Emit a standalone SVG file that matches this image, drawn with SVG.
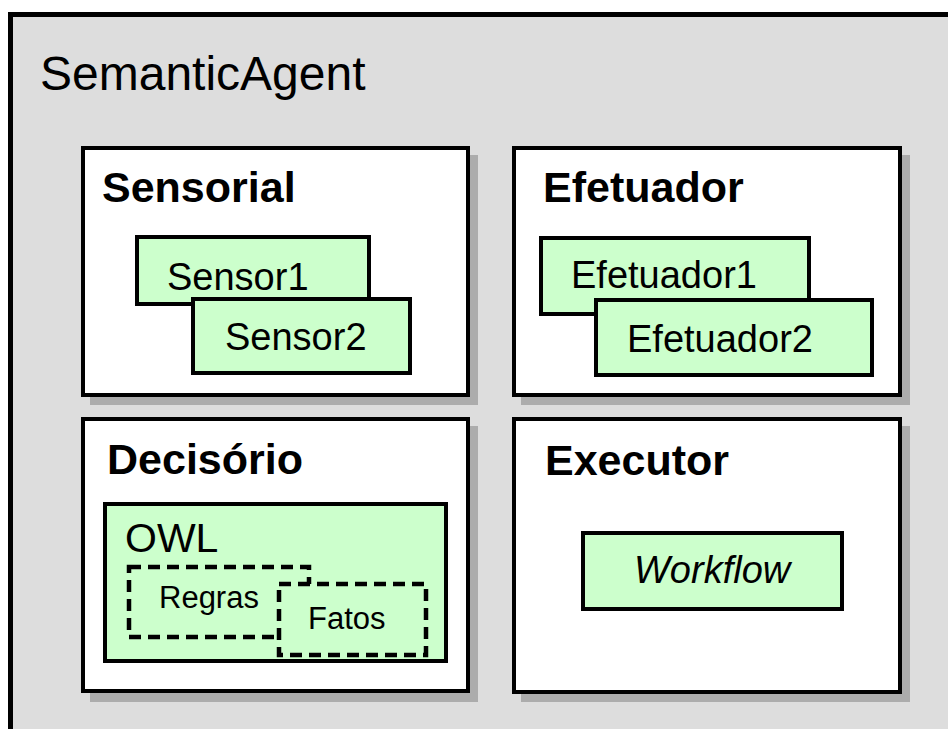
<svg xmlns="http://www.w3.org/2000/svg" width="948" height="729" viewBox="0 0 948 729">
<style>
.t{font-family:"Liberation Sans",Arial,sans-serif;fill:#000}
.h{font-weight:bold;font-size:43px}
.n{font-size:38px}
.box{fill:#fff;stroke:#000;stroke-width:4}
.sh{fill:#acacac}
.g{fill:#ccffcc;stroke:#000;stroke-width:4}
.d{fill:#ccffcc;stroke:#000;stroke-width:4.5;stroke-dasharray:12 7}
</style>
<rect width="948" height="729" fill="#fff"/>
<g id="SemanticAgent">
<rect x="10.5" y="14.5" width="1000" height="800" fill="#dddddd" stroke="#000" stroke-width="5"/>
<text class="t" x="40" y="90" font-size="48">SemanticAgent</text>
</g>
<g id="Sensorial">
<rect class="sh" x="90" y="155" width="388" height="250"/>
<rect class="box" x="83" y="148" width="385" height="247"/>
<text class="t h" x="102" y="202">Sensorial</text>
</g>
<g id="Sensor1">
<rect class="g" x="137" y="237" width="232" height="67"/>
<text class="t n" x="167" y="290">Sensor1</text>
</g>
<g id="Sensor2">
<rect class="g" x="193" y="299" width="217" height="74"/>
<text class="t n" x="225" y="350">Sensor2</text>
</g>
<g id="Efetuador">
<rect class="sh" x="521" y="155" width="389" height="250"/>
<rect class="box" x="514" y="148" width="386" height="247"/>
<text class="t h" x="543" y="202">Efetuador</text>
</g>
<g id="Efetuador1">
<rect class="g" x="541" y="238" width="268" height="76"/>
<text class="t n" x="571" y="288">Efetuador1</text>
</g>
<g id="Efetuador2">
<rect class="g" x="596" y="300" width="276" height="75"/>
<text class="t n" x="627" y="352">Efetuador2</text>
</g>
<g id="Decisorio">
<rect class="sh" x="90" y="426" width="388" height="276"/>
<rect class="box" x="83" y="419" width="385" height="272"/>
<text class="t h" x="107" y="474">Decisório</text>
</g>
<g id="OWL">
<rect class="g" x="105" y="504" width="341" height="157"/>
<text class="t" x="125" y="552" font-size="41">OWL</text>
</g>
<g id="Regras">
<rect class="d" x="129" y="567" width="180" height="70"/>
<text class="t" x="159" y="608" font-size="31">Regras</text>
</g>
<g id="Fatos">
<rect class="d" x="279" y="584" width="147" height="71"/>
<text class="t" x="308" y="629" font-size="31">Fatos</text>
</g>
<g id="Executor">
<rect class="sh" x="521" y="426" width="389" height="276"/>
<rect class="box" x="514" y="419" width="386" height="273"/>
<text class="t h" x="545" y="475">Executor</text>
</g>
<g id="Workflow">
<rect class="g" x="583" y="533" width="259" height="76"/>
<text class="t n" x="634" y="583" font-style="italic">Workflow</text>
</g>
<g id="connectors"></g>
</svg>
